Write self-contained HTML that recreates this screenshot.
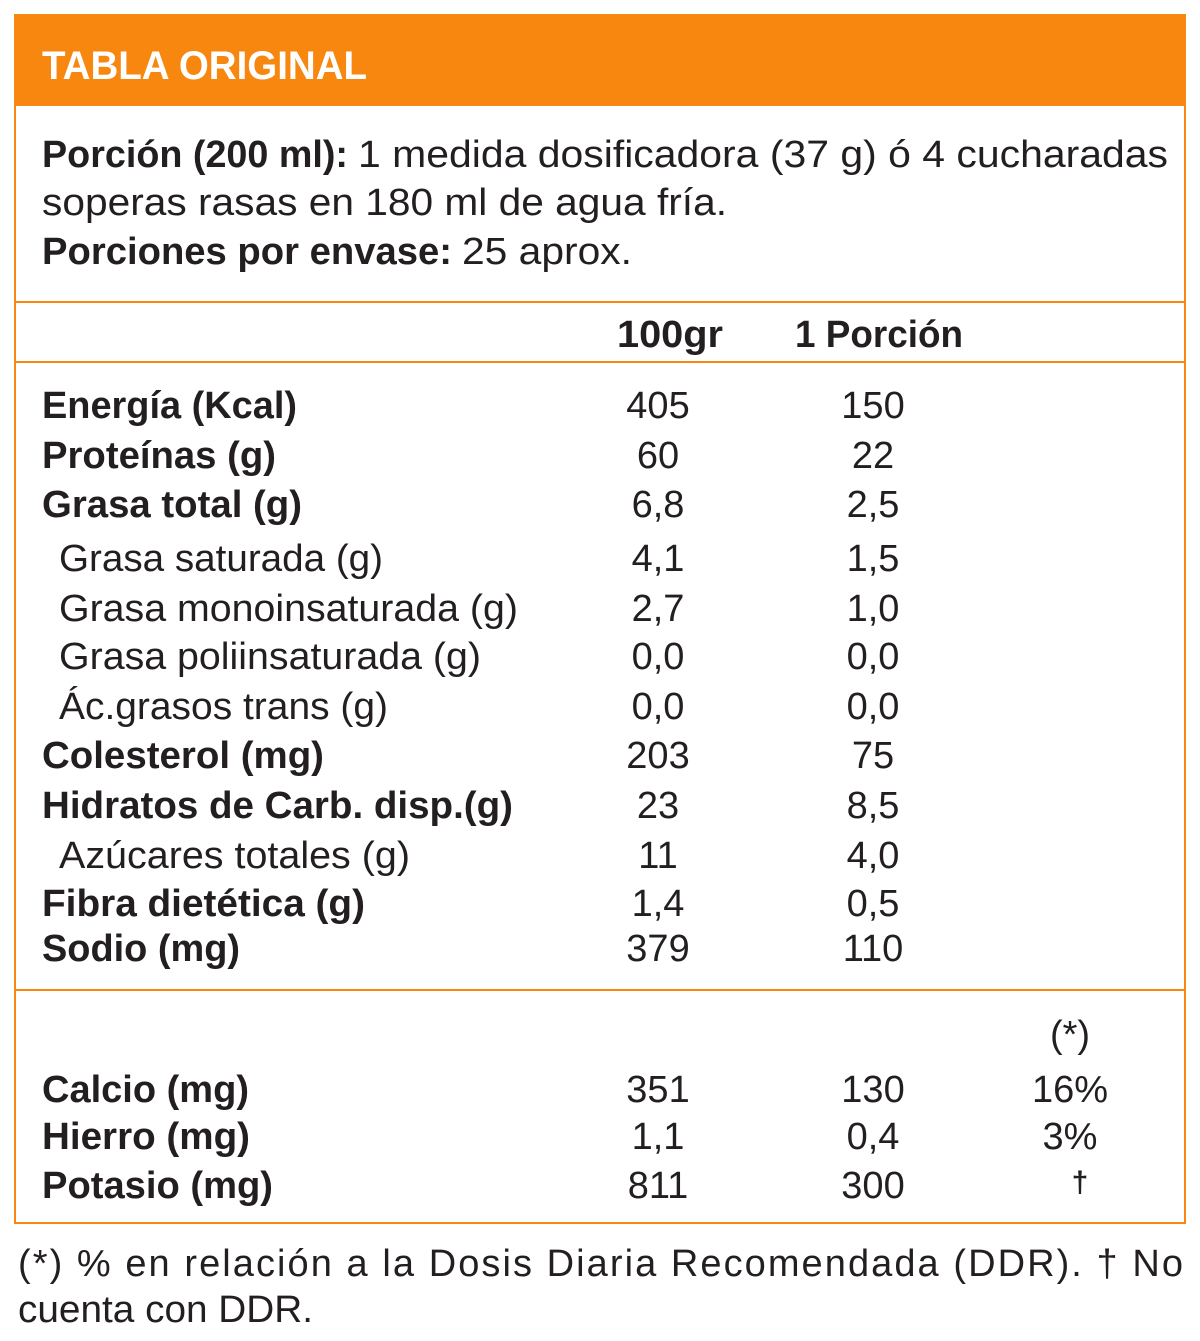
<!DOCTYPE html>
<html><head><meta charset="utf-8"><style>
html,body{margin:0;padding:0;background:#fff;}
svg{display:block;}
text{font-family:"Liberation Sans",sans-serif;fill:#231f20;font-size:38px;}
.b{font-weight:bold;}
.m{text-anchor:middle;}
</style></head><body>
<svg width="1200" height="1341" viewBox="0 0 1200 1341" xmlns="http://www.w3.org/2000/svg">
<rect x="15" y="15" width="1170" height="1208" fill="#fff" stroke="#f7870f" stroke-width="2"/>
<rect x="14" y="14" width="1172" height="92" fill="#f7870f"/>
<text x="42" y="79" class="b" style="fill:#fff;font-size:40px" textLength="325" lengthAdjust="spacingAndGlyphs">TABLA ORIGINAL</text>
<line x1="14" y1="302" x2="1186" y2="302" stroke="#f7870f" stroke-width="2"/>
<line x1="14" y1="362" x2="1186" y2="362" stroke="#f7870f" stroke-width="2"/>
<line x1="14" y1="990" x2="1186" y2="990" stroke="#f7870f" stroke-width="2"/>

<text x="42" y="167" class="b" textLength="306" lengthAdjust="spacingAndGlyphs">Porción (200 ml):</text>
<text x="358" y="167" textLength="810" lengthAdjust="spacingAndGlyphs">1 medida dosificadora (37 g) ó 4 cucharadas</text>
<text x="42" y="215" textLength="685" lengthAdjust="spacingAndGlyphs">soperas rasas en 180 ml de agua fría.</text>
<text x="42" y="264" class="b" textLength="410" lengthAdjust="spacingAndGlyphs">Porciones por envase:</text>
<text x="462" y="264" textLength="170" lengthAdjust="spacingAndGlyphs">25 aprox.</text>

<text x="617" y="347" class="b" textLength="106" lengthAdjust="spacingAndGlyphs">100gr</text>
<text x="795" y="347" class="b" textLength="168" lengthAdjust="spacingAndGlyphs">1 Porción</text>

<g>
<text x="42" y="418" class="b" textLength="255" lengthAdjust="spacingAndGlyphs">Energía (Kcal)</text>
<text x="42" y="468" class="b" textLength="234" lengthAdjust="spacingAndGlyphs">Proteínas (g)</text>
<text x="42" y="517" class="b" textLength="260" lengthAdjust="spacingAndGlyphs">Grasa total (g)</text>
<text x="59" y="571" textLength="324" lengthAdjust="spacingAndGlyphs">Grasa saturada (g)</text>
<text x="59" y="621" textLength="459" lengthAdjust="spacingAndGlyphs">Grasa monoinsaturada (g)</text>
<text x="59" y="669" textLength="422" lengthAdjust="spacingAndGlyphs">Grasa poliinsaturada (g)</text>
<text x="59" y="719" textLength="329" lengthAdjust="spacingAndGlyphs">Ác.grasos trans (g)</text>
<text x="42" y="768" class="b" textLength="282" lengthAdjust="spacingAndGlyphs">Colesterol (mg)</text>
<text x="42" y="818" class="b" textLength="471" lengthAdjust="spacingAndGlyphs">Hidratos de Carb. disp.(g)</text>
<text x="59" y="868" textLength="351" lengthAdjust="spacingAndGlyphs">Azúcares totales (g)</text>
<text x="42" y="916" class="b" textLength="323" lengthAdjust="spacingAndGlyphs">Fibra dietética (g)</text>
<text x="42" y="961" class="b" textLength="198" lengthAdjust="spacingAndGlyphs">Sodio (mg)</text>
</g>
<g class="m">
<text x="658" y="418" class="m">405</text><text x="873" y="418" class="m">150</text>
<text x="658" y="468" class="m">60</text><text x="873" y="468" class="m">22</text>
<text x="658" y="517" class="m">6,8</text><text x="873" y="517" class="m">2,5</text>
<text x="658" y="571" class="m">4,1</text><text x="873" y="571" class="m">1,5</text>
<text x="658" y="621" class="m">2,7</text><text x="873" y="621" class="m">1,0</text>
<text x="658" y="669" class="m">0,0</text><text x="873" y="669" class="m">0,0</text>
<text x="658" y="719" class="m">0,0</text><text x="873" y="719" class="m">0,0</text>
<text x="658" y="768" class="m">203</text><text x="873" y="768" class="m">75</text>
<text x="658" y="818" class="m">23</text><text x="873" y="818" class="m">8,5</text>
<text x="658" y="868" class="m">11</text><text x="873" y="868" class="m">4,0</text>
<text x="658" y="916" class="m">1,4</text><text x="873" y="916" class="m">0,5</text>
<text x="658" y="961" class="m">379</text><text x="873" y="961" class="m">110</text>
</g>

<text x="1070" y="1047" class="m">(*)</text>
<text x="42" y="1102" class="b" textLength="207" lengthAdjust="spacingAndGlyphs">Calcio (mg)</text>
<text x="42" y="1149" class="b" textLength="208" lengthAdjust="spacingAndGlyphs">Hierro (mg)</text>
<text x="42" y="1198" class="b" textLength="231" lengthAdjust="spacingAndGlyphs">Potasio (mg)</text>
<text x="658" y="1102" class="m">351</text><text x="873" y="1102" class="m">130</text><text x="1070" y="1102" class="m">16%</text>
<text x="658" y="1149" class="m">1,1</text><text x="873" y="1149" class="m">0,4</text><text x="1070" y="1149" class="m">3%</text>
<text x="658" y="1198" class="m">811</text><text x="873" y="1198" class="m">300</text><text x="1080" y="1192" class="m b" style="font-size:30px">†</text>

<text x="18" y="1276" textLength="1165" lengthAdjust="spacing">(*) % en relación a la Dosis Diaria Recomendada (DDR). † No</text>
<text x="18" y="1322" textLength="295" lengthAdjust="spacingAndGlyphs">cuenta con DDR.</text>
</svg>
</body></html>
